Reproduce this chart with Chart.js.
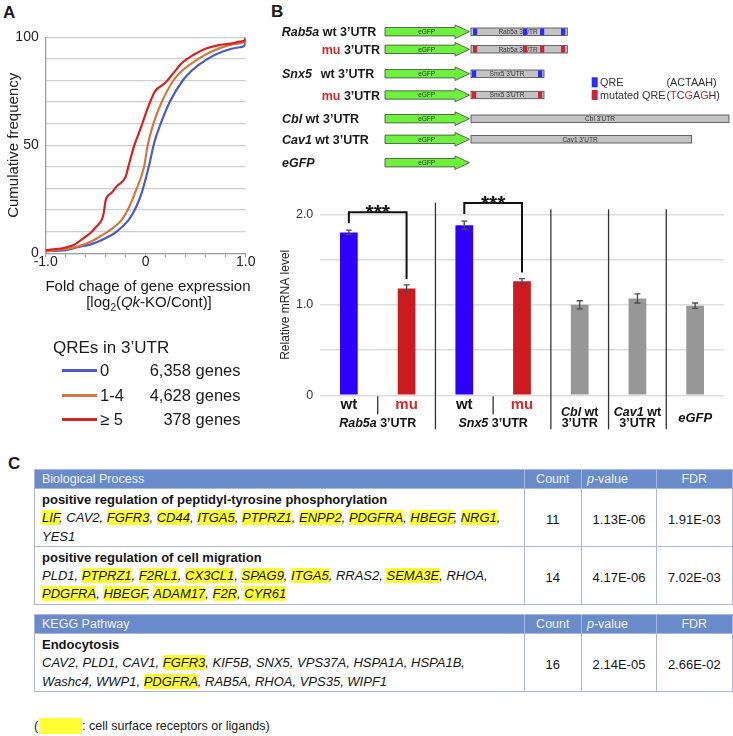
<!DOCTYPE html>
<html><head><meta charset="utf-8">
<script src="https://cdn.jsdelivr.net/npm/chart.js@4.4.0/dist/chart.umd.min.js"></script>
<style>
html,body{margin:0;padding:0;background:#fff;}
body{width:733px;height:736px;position:relative;overflow:hidden;font-family:"Liberation Sans",Arial,Helvetica,sans-serif;color:#1a1a1a;}
.abs{position:absolute;white-space:nowrap;line-height:1;}
canvas{position:absolute;}
table.t{position:absolute;left:34px;width:697.6px;border-collapse:collapse;table-layout:fixed;font-size:13px;color:#151515;}
table.t td{border:1px solid #a9b8dc;padding:0;white-space:nowrap;}
table.t tr.h td{background:#6a8bca;color:#eef2fb;height:18px;line-height:18px;font-size:12.5px;text-align:center;}
table.t tr.h td.l{text-align:left;padding-left:7px;}
table.t tr.h td.p{text-align:left;padding-left:5px;}
table.t td.g{vertical-align:top;line-height:18.3px;padding:2px 7px 0 7px;}
table.t td.n{text-align:center;vertical-align:middle;padding-top:5px;}
.y{background:#ffff33;}
</style></head><body>

<!-- Panel labels -->
<div class="abs" style="left:3px;top:4px;font-size:17px;font-weight:bold;">A</div>
<div class="abs" style="left:271px;top:3px;font-size:17px;font-weight:bold;">B</div>
<div class="abs" style="left:8px;top:455px;font-size:17px;font-weight:bold;">C</div>

<canvas id="cA" width="262" height="300" style="left:0;top:20px;width:262px;height:300px;"></canvas>
<div class="abs" style="left:42px;width:212px;text-align:center;top:278px;font-size:15px;">Fold chage of gene expression</div>
<div class="abs" style="left:42px;width:214px;text-align:center;top:293.5px;font-size:15px;">[log<sub style="font-size:10px;line-height:0;">2</sub>(<i>Qk</i>-KO/Cont)]</div>

<!-- Panel A legend -->
<div class="abs" style="left:53px;top:338.5px;font-size:17px;">QREs in 3’UTR</div>
<div class="abs" id="legA"></div>

<!-- Panel B constructs -->
<svg id="sv" width="733" height="185" style="position:absolute;left:0;top:0;"></svg>

<canvas id="cB" width="463" height="255" style="left:270px;top:185px;width:463px;height:255px;"></canvas>

<!-- Panel C tables -->
<table class="t" style="top:469px;">
<colgroup><col style="width:489.6px"><col style="width:57.4px"><col style="width:75px"><col style="width:75.6px"></colgroup>
<tr class="h"><td class="l">Biological Process</td><td>Count</td><td class="p"><i>p</i>-value</td><td>FDR</td></tr>
<tr style="height:56px"><td class="g"><b>positive regulation of peptidyl-tyrosine phosphorylation</b><br><i><span class="y">LIF</span>, CAV2, <span class="y">FGFR3</span>, <span class="y">CD44</span>, <span class="y">ITGA5</span>, <span class="y">PTPRZ1</span>, <span class="y">ENPP2</span>, <span class="y">PDGFRA</span>, <span class="y">HBEGF</span>, <span class="y">NRG1</span>,<br>YES1</i></td><td class="n">11</td><td class="n">1.13E-06</td><td class="n">1.91E-03</td></tr>
<tr style="height:56px"><td class="g"><b>positive regulation of cell migration</b><br><i>PLD1, <span class="y">PTPRZ1</span>, <span class="y">F2RL1</span>, <span class="y">CX3CL1</span>, <span class="y">SPAG9</span>, <span class="y">ITGA5</span>, RRAS2, <span class="y">SEMA3E</span>, RHOA,<br><span class="y">PDGFRA</span>, <span class="y">HBEGF</span>, <span class="y">ADAM17</span>, <span class="y">F2R</span>, <span class="y">CYR61</span></i></td><td class="n">14</td><td class="n">4.17E-06</td><td class="n">7.02E-03</td></tr>
</table>

<table class="t" style="top:614px;">
<colgroup><col style="width:489.6px"><col style="width:57.4px"><col style="width:75px"><col style="width:75.6px"></colgroup>
<tr class="h"><td class="l">KEGG Pathway</td><td>Count</td><td class="p"><i>p</i>-value</td><td>FDR</td></tr>
<tr style="height:55px"><td class="g"><b>Endocytosis</b><br><i>CAV2, PLD1, CAV1, <span class="y">FGFR3</span>, KIF5B, SNX5, VPS37A, HSPA1A, HSPA1B,<br>Washc4, WWP1, <span class="y">PDGFRA</span>, RAB5A, RHOA, VPS35, WIPF1</i></td><td class="n">16</td><td class="n">2.14E-05</td><td class="n">2.66E-02</td></tr>
</table>

<div class="abs" style="left:34px;top:720px;font-size:12.5px;">(</div>
<div class="abs" style="left:38.5px;top:718.3px;width:43.5px;height:15.7px;background:#ffff33;"></div>
<div class="abs" style="left:82px;top:720.3px;font-size:12.5px;">: cell surface receptors or ligands)</div>

<script>
// ---------- Panel A data (cumulative frequency curves) ----------
const qre0Label = '0', qre0Genes = '6,358 genes';
const qre14Label = '1-4', qre14Genes = '4,628 genes';
const qre5Label = '≥ 5', qre5Genes = '378 genes';
const qre0X = [-1.0,-0.8,-0.69,-0.52,-0.36,-0.29,-0.17,-0.11,-0.04,0.03,0.09,0.15,0.24,0.37,0.47,0.62,0.77,0.94,0.985,1.0];
const qre0Y = [1.0,1.5,2.7,4.6,8,10,15.5,20,28,40,52,60,70,80,85,90,93.4,95.4,96,98.5];
const qre14X = [-1.0,-0.88,-0.69,-0.55,-0.45,-0.38,-0.24,-0.18,-0.107,-0.017,0.02,0.077,0.16,0.277,0.376,0.526,0.66,0.843,0.94,1.0];
const qre14Y = [1.0,1.5,3.0,5.3,8,10,15.5,20,28,40,50,60,70,80,85,90,93.4,96.5,97.2,98];
const qre5X = [-1.0,-0.9,-0.8,-0.72,-0.67,-0.62,-0.55,-0.49,-0.44,-0.42,-0.40,-0.34,-0.29,-0.20,-0.174,-0.114,-0.057,0.027,0.093,0.193,0.277,0.36,0.476,0.61,0.743,0.87,0.94,0.99,1.0];
const qre5Y = [1.5,1.9,2.7,3.8,5.3,7.0,9.5,12.5,15.5,18.6,24.6,28,31,35.5,40,50,57,68,75,78.8,83.4,88,91.8,94.9,96.5,97.2,98,98.5,100];
const xTickValues = [-1, 0, 1];
const xTickTexts = ['-1.0', '0', '1.0'];
const yTickValues = [0, 50, 100];
const yTickTexts = ['0', '50', '100'];

// ---------- Panel B data (relative mRNA level) ----------
const barCategories = ['Rab5a wt', 'Rab5a mu', 'Snx5 wt', 'Snx5 mu', 'Cbl wt', 'Cav1 wt', 'eGFP'];
const barValues = [1.80, 1.18, 1.88, 1.26, 1.00, 1.07, 0.99];
const barErrors = [0.025, 0.04, 0.045, 0.03, 0.045, 0.05, 0.03];
const barTopLabels = ['wt', 'mu', 'wt', 'mu', '', '', ''];
const sigPairs = [[0, 1], [2, 3]];
const sigMarks = ['***', '***'];
const barYTickValues = [0, 1, 2];
const barYTickTexts = ['0', '1.0', '2.0'];

const C_BLUE = '#4a5cc4', C_ORANGE = '#d5763a', C_RED = '#d62222';
const FONT = '"Liberation Sans", Arial, Helvetica, sans-serif';

// Legend A
(function(){
  const rows = [[qre0Label, qre0Genes, C_BLUE, 370.7],[qre14Label, qre14Genes, C_ORANGE, 395.3],[qre5Label, qre5Genes, C_RED, 419.5]];
  let h = '';
  rows.forEach(r => {
    h += `<div class="abs" style="left:61.7px;top:${r[3]-1.5}px;width:35px;height:3px;background:${r[2]};"></div>`;
    h += `<div class="abs" style="left:100px;top:${r[3]-8.3}px;font-size:16.5px;">${r[0]}</div>`;
    h += `<div class="abs" style="left:120px;width:120.5px;text-align:right;top:${r[3]-8.3}px;font-size:16.5px;">${r[1]}</div>`;
  });
  document.getElementById('legA').outerHTML = h;
})();

function pts(xs, ys){ return xs.map((x, i) => ({x: x, y: ys[i]})); }
function near(v, arr){ return arr.findIndex(a => Math.abs(a - v) < 1e-6); }

new Chart(document.getElementById('cA'), {
  type: 'line',
  data: { datasets: [
    { data: pts(qre5X, qre5Y), borderColor: C_RED },
    { data: pts(qre14X, qre14Y), borderColor: C_ORANGE },
    { data: pts(qre0X, qre0Y), borderColor: C_BLUE }
  ]},
  options: {
    animation: false, responsive: false, devicePixelRatio: 1,
    plugins: { legend: { display: false }, tooltip: { enabled: false } },
    layout: { padding: { top: 17.3, right: 16.3, bottom: 46.7, left: 0 } },
    elements: { point: { radius: 0 }, line: { borderWidth: 2.2, cubicInterpolationMode: 'monotone', fill: false } },
    scales: {
      x: { type: 'linear', min: -1, max: 1,
        afterFit(s){ s.height = 20; },
        grid: { drawOnChartArea: false, drawTicks: true, tickLength: 4, color: '#a0a0a0' },
        border: { display: true, color: '#a0a0a0', width: 1.3 },
        ticks: { stepSize: 0.2, autoSkip: false, maxRotation: 0, padding: -2.5, color: '#222',
          font: { family: FONT, size: 14, lineHeight: 1 },
          callback: v => { const i = near(v, xTickValues); return i >= 0 ? xTickTexts[i] : ''; } }
      },
      y: { min: 0, max: 100,
        afterFit(s){ s.width = 45.7; },
        grid: { color: '#d0d0d0', lineWidth: 1.3, drawTicks: false },
        border: { display: true, color: '#a0a0a0', width: 1.3 },
        ticks: { stepSize: 10, padding: 7, color: '#222', font: { family: FONT, size: 14 },
          callback: v => { const i = near(v, yTickValues); return i >= 0 ? yTickTexts[i] : ''; } },
        title: { display: true, text: 'Cumulative frequency', color: '#222', font: { family: FONT, size: 15 }, padding: { top: 5, bottom: 0 } }
      }
    }
  }
});

// ---------- Panel B constructs (schematic) ----------
(function(){
  const sv = document.getElementById('sv');
  const NS = 'http://www.w3.org/2000/svg';
  function el(tag, attrs, txt){ const e = document.createElementNS(NS, tag); for (const k in attrs) e.setAttribute(k, attrs[k]); if (txt !== undefined) e.textContent = txt; sv.appendChild(e); return e; }
  const QB = '#2b2bff', QR = '#c8283c';
  const rows = [
    {c:31.7, utr:[471,567.3], marks:[473,523,540,561], mc:QB, txt:"Rab5a 3'UTR", tx:518},
    {c:49.3, utr:[471,567.3], marks:[473,523,540,561], mc:QR, txt:"Rab5a 3'UTR", tx:518},
    {c:73.7, utr:[471,544], marks:[472,538], mc:QB, txt:"Snx5 3'UTR", tx:507},
    {c:95, utr:[471,544], marks:[472,538], mc:QR, txt:"Snx5 3'UTR", tx:507},
    {c:118.7, utr:[471,729], marks:[], mc:QB, txt:"Cbl 3'UTR", tx:600},
    {c:139.3, utr:[471,691.7], marks:[], mc:QB, txt:"Cav1 3'UTR", tx:580},
    {c:162.7, utr:null}
  ];
  rows.forEach(r => {
    const c = r.c;
    el('polygon', {points:`385,${c-4.2} 455,${c-4.2} 455,${c-6.8} 469.5,${c} 455,${c+6.8} 455,${c+4.2} 385,${c+4.2}`, fill:'#6cf23c', stroke:'#444', 'stroke-width':0.8});
    el('text', {x:426.7, y:c+2.3, 'font-size':6.5, 'font-family':FONT, fill:'#333', 'text-anchor':'middle'}, 'eGFP');
    if (r.utr) {
      el('rect', {x:r.utr[0], y:c-3.7, width:r.utr[1]-r.utr[0], height:7.4, fill:'#c3c3c3', stroke:'#444', 'stroke-width':0.8});
      el('text', {x:r.tx, y:c+2.3, 'font-size':6.5, 'font-family':FONT, fill:'#333', 'text-anchor':'middle'}, r.txt);
      r.marks.forEach(m => el('rect', {x:m, y:c-3.3, width:4.2, height:6.6, fill:r.mc}));
    }
  });
  function label(x, c, parts){
    const t = el('text', {x:x, y:c+4.5, 'font-size':12.5, 'font-family':FONT, 'font-weight':'bold', fill:'#1a1a1a'});
    parts.forEach(p => { const s = document.createElementNS(NS, 'tspan'); s.textContent = p[0]; if (p[1]) s.setAttribute('font-style','italic'); if (p[2]) s.setAttribute('fill', p[2]); if (p[3] !== undefined) s.setAttribute('x', p[3]); t.appendChild(s); });
  }
  label(281.7, 31.7, [['Rab5a',1],[' wt 3’UTR']]);
  label(321.7, 49.3, [['mu',0,'#d42a2a'],[' 3’UTR']]);
  label(282, 73.7, [['Snx5',1],['wt 3’UTR',0,null,320.7]]);
  label(321.7, 95, [['mu',0,'#d42a2a'],[' 3’UTR']]);
  label(282, 118.7, [['Cbl',1],[' wt 3’UTR']]);
  label(282, 139.3, [['Cav1',1],[' wt 3’UTR']]);
  label(282, 162.7, [['eGFP',1]]);
  // legend
  el('rect', {x:591.7, y:77.3, width:6, height:10, fill:QB});
  el('rect', {x:591.7, y:90, width:6, height:10, fill:QR});
  el('text', {x:600, y:86, 'font-size':10.8, 'font-family':FONT, fill:'#333'}, 'QRE');
  el('text', {x:666.5, y:86, 'font-size':10.8, 'font-family':FONT, fill:'#333'}, '(ACTAAH)');
  el('text', {x:600, y:99, 'font-size':10.8, 'font-family':FONT, fill:'#333'}, 'mutated QRE');
  const t = el('text', {x:666.5, y:99, 'font-size':10.8, 'font-family':FONT, fill:'#333'});
  [['(',0],['T',1],['C',0],['G',1],['A',0],['G',1],['H)',0]].forEach(p => { const s = document.createElementNS(NS,'tspan'); s.textContent = p[0]; if (p[1]) s.setAttribute('fill','#d42a2a'); t.appendChild(s); });
})();

// ---------- Panel B bar chart ----------
const overlayB = {
  id: 'overlayB',
  afterDraw(chart){
    const ctx = chart.ctx, x = chart.scales.x, y = chart.scales.y, ca = chart.chartArea;
    ctx.save();
    // error bars
    ctx.strokeStyle = '#4a4a4a'; ctx.lineWidth = 1.3;
    barValues.forEach((v, i) => {
      const px = x.getPixelForValue(i), yt = y.getPixelForValue(v + barErrors[i]), yb = y.getPixelForValue(v - barErrors[i]);
      ctx.beginPath();
      ctx.moveTo(px, yt); ctx.lineTo(px, yb);
      ctx.moveTo(px - 3, yt); ctx.lineTo(px + 3, yt);
      ctx.moveTo(px - 3, yb); ctx.lineTo(px + 3, yb);
      ctx.stroke();
    });
    // significance brackets
    sigPairs.forEach((p, k) => {
      const a = p[0], b = p[1];
      const xa = x.getPixelForValue(a), xb = x.getPixelForValue(b);
      const ya = y.getPixelForValue(barValues[a] + barErrors[a]) - 7;
      const yb = y.getPixelForValue(barValues[b] + barErrors[b]) - 6;
      const top = ya - 11;
      ctx.strokeStyle = '#111'; ctx.lineWidth = 2;
      ctx.beginPath(); ctx.moveTo(xa, ya); ctx.lineTo(xa, top); ctx.lineTo(xb, top); ctx.lineTo(xb, yb); ctx.stroke();
      ctx.fillStyle = '#111'; ctx.font = 'bold 21px ' + FONT; ctx.textAlign = 'center'; ctx.textBaseline = 'alphabetic';
      ctx.fillText(sigMarks[k], (xa + xb) / 2, top - 5 + 12);
    });
    // separators
    const seps = [[1, 2.13], [3, 2.055], [4, 2.055], [5, 2.055]];
    ctx.strokeStyle = '#333'; ctx.lineWidth = 1.3;
    seps.forEach(s => {
      const sx = (x.getPixelForValue(s[0]) + x.getPixelForValue(s[0] + 1)) / 2;
      ctx.beginPath(); ctx.moveTo(sx, y.getPixelForValue(s[1])); ctx.lineTo(sx, ca.bottom + 34); ctx.stroke();
    });
    [0, 2].forEach(i => {
      const sx = (x.getPixelForValue(i) + x.getPixelForValue(i + 1)) / 2;
      ctx.beginPath(); ctx.moveTo(sx, ca.bottom + 1); ctx.lineTo(sx, ca.bottom + 19); ctx.stroke();
    });
    // labels
    ctx.textBaseline = 'middle';
    function mixed(parts, cx, cy){
      let w = 0;
      parts.forEach(p => { ctx.font = p[1]; w += ctx.measureText(p[0]).width; });
      let xx = cx - w / 2;
      ctx.textAlign = 'left';
      parts.forEach(p => { ctx.font = p[1]; ctx.fillStyle = p[2] || '#111'; ctx.fillText(p[0], xx, cy); xx += ctx.measureText(p[0]).width; });
    }
    const B = 'bold 15px ' + FONT, G = 'bold 12.5px ' + FONT, GI = 'italic bold 12.5px ' + FONT;
    barTopLabels.forEach((t, i) => {
      if (!t) return;
      mixed([[t, B, t === 'mu' ? '#d42a2a' : '#111']], x.getPixelForValue(i), ca.bottom + 9.5);
    });
    const mid = (i, j) => (x.getPixelForValue(i) + x.getPixelForValue(j)) / 2;
    mixed([['Rab5a', GI], [' 3’UTR', G]], mid(0, 1), ca.bottom + 28.5);
    mixed([['Snx5', GI], [' 3’UTR', G]], mid(2, 3), ca.bottom + 28.5);
    mixed([['Cbl', GI], [' wt', G]], x.getPixelForValue(4), ca.bottom + 16.8);
    mixed([['3’UTR', G]], x.getPixelForValue(4), ca.bottom + 28);
    mixed([['Cav1', GI], [' wt', G]], x.getPixelForValue(5), ca.bottom + 16.8);
    mixed([['3’UTR', G]], x.getPixelForValue(5), ca.bottom + 28);
    mixed([['eGFP', 'italic bold 13px ' + FONT]], x.getPixelForValue(6), ca.bottom + 22.8);
    ctx.restore();
  }
};

new Chart(document.getElementById('cB'), {
  type: 'bar',
  data: { labels: barCategories, datasets: [{
    data: barValues,
    backgroundColor: ['#2d00ff', '#cc1b20', '#2d00ff', '#cc1b20', '#979797', '#979797', '#979797'],
    borderWidth: 0, barPercentage: 0.307, categoryPercentage: 1
  }]},
  options: {
    animation: false, responsive: false, devicePixelRatio: 1,
    plugins: { legend: { display: false }, tooltip: { enabled: false } },
    layout: { padding: { top: 29.3, right: 9, bottom: 44.7, left: 0 } },
    scales: {
      x: { display: false },
      y: { min: 0, max: 2,
        afterFit(s){ s.width = 50; },
        grid: { color: '#dedede', lineWidth: 1.5, drawTicks: false },
        border: { display: false },
        ticks: { stepSize: 0.5, padding: 6.7, color: '#333', font: { family: FONT, size: 12.5 },
          callback: v => { const i = near(v, barYTickValues); return i >= 0 ? barYTickTexts[i] : ''; } },
        title: { display: true, text: 'Relative mRNA level', color: '#222', font: { family: FONT, size: 12 }, padding: { top: 8, bottom: 0 } }
      }
    }
  },
  plugins: [overlayB]
});
</script>
</body></html>
